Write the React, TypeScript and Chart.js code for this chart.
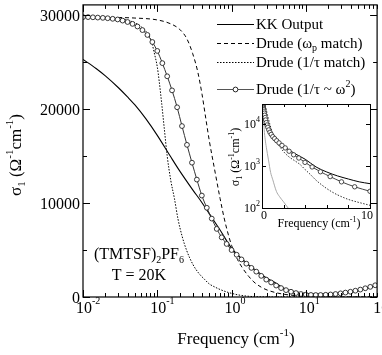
import React, { useEffect, useRef } from "react";
import { Chart, registerables } from "chart.js";

Chart.register(...registerables);

const FONT = '"Liberation Serif", "Times New Roman", serif';

// ---- Main panel data (frequency in cm^-1, sigma in Ohm^-1 cm^-1) ----
const kkFreq = [0.01, 0.015, 0.02, 0.03, 0.04, 0.05, 0.07, 0.1, 0.15, 0.2, 0.3, 0.4, 0.5, 0.7, 1, 1.5, 2, 3, 4, 5, 6, 7, 8, 9, 10, 15, 20, 30, 50, 70, 100];
const kkSigma = [25300, 24330, 23540, 22280, 21280, 20450, 18990, 17210, 14980, 13430, 11410, 10040, 8880, 7130, 5200, 3800, 3000, 2000, 1450, 950, 720, 580, 490, 420, 380, 330, 330, 400, 650, 950, 1400];

const wpFreq = [0.01, 0.02, 0.05, 0.1, 0.15, 0.2, 0.25, 0.3, 0.35, 0.4, 0.45, 0.5, 0.6, 0.7, 0.8, 0.9, 1, 1.2, 1.4, 1.7, 2, 2.5, 3, 4, 5, 7, 10, 20, 50, 100];
const wpSigma = [29800, 29780, 29700, 29500, 29100, 28500, 27500, 25900, 24000, 21600, 19000, 16700, 13300, 10500, 8300, 6700, 5500, 4000, 3100, 2200, 1600, 1050, 750, 450, 300, 160, 80, 20, 4, 1];

const tauFreq = [0.01, 0.02, 0.03, 0.04, 0.05, 0.06, 0.07, 0.078, 0.085, 0.091, 0.1, 0.106, 0.115, 0.124, 0.136, 0.152, 0.17, 0.19, 0.217, 0.25, 0.3, 0.36, 0.43, 0.5, 0.6, 0.7, 0.85, 1, 1.2, 1.5, 2, 3, 5, 10, 100];
const tauSigma = [29800, 29750, 29650, 29450, 29200, 28800, 28300, 27800, 27000, 26000, 24500, 23000, 20500, 18000, 15000, 12400, 10500, 8300, 6400, 4900, 3500, 2550, 1900, 1400, 1050, 800, 550, 390, 240, 120, 40, 12, 4, 1, 0];

const w2Freq = [0.01, 0.0117, 0.0136, 0.0158, 0.0185, 0.0215, 0.0251, 0.0293, 0.0341, 0.0398, 0.0464, 0.0541, 0.0631, 0.0736, 0.0858, 0.1, 0.117, 0.136, 0.158, 0.185, 0.215, 0.251, 0.293, 0.341, 0.398, 0.464, 0.541, 0.631, 0.736, 0.858, 1.0, 1.17, 1.36, 1.58, 1.85, 2.15, 2.51, 2.93, 3.41, 3.98, 4.64, 5.41, 6.31, 7.36, 8.58, 10, 11.7, 13.6, 15.8, 18.5, 21.5, 25.1, 29.3, 34.1, 39.8, 46.4, 54.1, 63.1, 73.6, 85.8, 100];
const w2Sigma = [29800, 29800, 29780, 29750, 29720, 29680, 29620, 29550, 29430, 29280, 29080, 28800, 28420, 27900, 27150, 26200, 24900, 23500, 22000, 20200, 18200, 16200, 14300, 12500, 10800, 9500, 8350, 7250, 6350, 5650, 5000, 4500, 4000, 3550, 3100, 2700, 2250, 1850, 1550, 1220, 950, 730, 560, 420, 320, 250, 220, 210, 215, 235, 270, 320, 390, 470, 560, 670, 790, 930, 1080, 1250, 1430];

// ---- Inset data ----
const insetWpFreq = [0.01, 0.1, 0.2, 0.3, 0.4, 0.5, 0.7, 1, 1.5, 2, 2.5, 3, 3.5, 4, 4.5, 5, 5.5, 6, 6.5, 7, 8, 9, 10];
const insetWpSigma = [29800, 29500, 28500, 25900, 21600, 16700, 10500, 5800, 3300, 2200, 1650, 1350, 1100, 820, 620, 460, 360, 290, 240, 205, 160, 135, 116];
const insetTauFreq = [0.01, 0.05, 0.1, 0.15, 0.2, 0.3, 0.4, 0.6, 0.8, 1, 1.33, 1.6, 2, 2.42, 3, 4];
const insetTauSigma = [29800, 29200, 24500, 13000, 7500, 4200, 2800, 1400, 700, 470, 250, 190, 140, 100, 70, 45];

// ---- Ticks ----
const xTickExps = [-2, -1, 0, 1, 2];
const yMajorTicks = [0, 10000, 20000, 30000];
const yMinorTicks = [5000, 15000, 25000];
const insetYTickExps = [2, 3, 4];
const insetXTicks = [0, 10];
const insetXMinor = [2, 4, 6, 8];

// inset canvas placement on the page
const INSET_LEFT = 225;
const INSET_TOP = 98;

type Seg = { t: string; s?: "sup" | "sub" };

function segFont(size: number, s?: string) {
  const sz = s ? Math.round(size * 0.65) : size;
  return `${sz}px ${FONT}`;
}
function richWidth(ctx: CanvasRenderingContext2D, segs: Seg[], size: number) {
  let w = 0;
  for (const sg of segs) {
    ctx.font = segFont(size, sg.s);
    w += ctx.measureText(sg.t).width;
  }
  return w;
}
function drawRich(
  ctx: CanvasRenderingContext2D,
  segs: Seg[],
  x: number,
  y: number,
  size: number,
  align: "left" | "center" | "right" = "left",
  supK = 0.45
) {
  const w = richWidth(ctx, segs, size);
  let cx = align === "left" ? x : align === "center" ? x - w / 2 : x - w;
  ctx.textAlign = "left";
  ctx.textBaseline = "alphabetic";
  for (const sg of segs) {
    ctx.font = segFont(size, sg.s);
    const dy = sg.s === "sup" ? -size * supK : sg.s === "sub" ? size * 0.22 : 0;
    ctx.fillText(sg.t, cx, y + dy);
    cx += ctx.measureText(sg.t).width;
  }
}

const sigmaTitle: Seg[] = [
  { t: "σ" }, { t: "1", s: "sub" }, { t: " (Ω" }, { t: "-1", s: "sup" }, { t: "cm" }, { t: "-1", s: "sup" }, { t: ")" },
];
const freqTitle: Seg[] = [{ t: "Frequency (cm" }, { t: "-1", s: "sup" }, { t: ")" }];

const mainDecor = {
  id: "mainDecor",
  afterDatasetsDraw(chart: any) {
    const { ctx, chartArea: a, scales } = chart;
    const xs = scales.x;
    const ys = scales.y;
    ctx.save();
    ctx.strokeStyle = "#000";
    ctx.fillStyle = "#000";
    ctx.setLineDash([]);
    ctx.lineWidth = 1.2;
    ctx.strokeRect(a.left, a.top, a.right - a.left, a.bottom - a.top);
    ctx.lineWidth = 1;
    ctx.beginPath();
    for (const e of xTickExps) {
      for (let k = 1; k <= 9; k++) {
        const v = k * Math.pow(10, e);
        if (v < xs.min || v > xs.max) continue;
        const px = Math.round(xs.getPixelForValue(v)) + 0.5;
        const len = k === 1 ? 7 : 4;
        ctx.moveTo(px, a.bottom);
        ctx.lineTo(px, a.bottom - len);
        ctx.moveTo(px, a.top);
        ctx.lineTo(px, a.top + len);
      }
    }
    const yt = (v: number, len: number) => {
      const py = Math.round(ys.getPixelForValue(v)) + 0.5;
      ctx.moveTo(a.left, py);
      ctx.lineTo(a.left + len, py);
      ctx.moveTo(a.right, py);
      ctx.lineTo(a.right - len, py);
    };
    yMajorTicks.forEach((v) => yt(v, 7));
    yMinorTicks.forEach((v) => yt(v, 4));
    ctx.stroke();

    // y tick labels
    ctx.font = `16px ${FONT}`;
    ctx.textAlign = "right";
    ctx.textBaseline = "alphabetic";
    yMajorTicks.forEach((v) => {
      const py = ys.getPixelForValue(v);
      ctx.fillText(String(v), a.left - 3, py + 5.5);
    });
    // x tick labels
    xTickExps.forEach((e) => {
      const px = xs.getPixelForValue(Math.pow(10, e));
      drawRich(ctx, [{ t: "10" }, { t: String(e), s: "sup" }], px - 7, 313, 16, "left", 0.55);
    });
    // axis titles
    drawRich(ctx, freqTitle, 236, 344, 17, "center");
    ctx.save();
    ctx.translate(21, 155);
    ctx.rotate(-Math.PI / 2);
    drawRich(ctx, sigmaTitle, 0, 0, 17, "center");
    ctx.restore();

    // annotation
    drawRich(ctx, [{ t: "(TMTSF)" }, { t: "2", s: "sub" }, { t: "PF" }, { t: "6", s: "sub" }], 139, 259, 16, "center");
    drawRich(ctx, [{ t: "T = 20K" }], 139, 280, 16, "center");

    // legend
    const lx0 = 217;
    const lx1 = 254;
    const rows: { y: number; kind: string; label: Seg[] }[] = [
      { y: 24, kind: "solid", label: [{ t: "KK Output" }] },
      { y: 43, kind: "dash", label: [{ t: "Drude (ω" }, { t: "p", s: "sub" }, { t: " match)" }] },
      { y: 62, kind: "dot", label: [{ t: "Drude (1/τ match)" }] },
      { y: 89, kind: "circ", label: [{ t: "Drude (1/τ ~ ω" }, { t: "2", s: "sup" }, { t: ")" }] },
    ];
    rows.forEach((r) => {
      ctx.save();
      ctx.lineWidth = 1;
      ctx.strokeStyle = r.kind === "circ" ? "#555" : "#000";
      ctx.setLineDash(r.kind === "dash" ? [4, 3] : r.kind === "dot" ? [1.5, 1.5] : []);
      ctx.beginPath();
      ctx.moveTo(lx0, r.y + 0.5);
      ctx.lineTo(lx1, r.y + 0.5);
      ctx.stroke();
      if (r.kind === "circ") {
        ctx.setLineDash([]);
        ctx.beginPath();
        ctx.arc((lx0 + lx1) / 2, r.y + 0.5, 2.4, 0, Math.PI * 2);
        ctx.fillStyle = "#fff";
        ctx.fill();
        ctx.strokeStyle = "#222";
        ctx.stroke();
      }
      ctx.restore();
      drawRich(ctx, r.label, 256, r.y + 5, 15, "left");
    });
    ctx.restore();
  },
};

const insetDecor = {
  id: "insetDecor",
  afterDatasetsDraw(chart: any) {
    const { ctx, chartArea: a, scales } = chart;
    const xs = scales.x;
    const ys = scales.y;
    ctx.save();
    ctx.strokeStyle = "#000";
    ctx.fillStyle = "#000";
    ctx.setLineDash([]);
    ctx.lineWidth = 1;
    ctx.strokeRect(a.left + 0.5, a.top + 0.5, a.right - a.left, a.bottom - a.top);
    ctx.beginPath();
    insetYTickExps.forEach((e) => {
      const py = Math.round(ys.getPixelForValue(Math.pow(10, e))) + 0.5;
      ctx.moveTo(a.left, py);
      ctx.lineTo(a.left + 4, py);
      ctx.moveTo(a.right, py);
      ctx.lineTo(a.right - 4, py);
    });
    insetXMinor.forEach((v) => {
      const px = Math.round(xs.getPixelForValue(v)) + 0.5;
      ctx.moveTo(px, a.bottom);
      ctx.lineTo(px, a.bottom - 3);
      ctx.moveTo(px, a.top);
      ctx.lineTo(px, a.top + 3);
    });
    ctx.stroke();
    insetYTickExps.forEach((e) => {
      const py = ys.getPixelForValue(Math.pow(10, e));
      drawRich(ctx, [{ t: "10" }, { t: String(e), s: "sup" }], a.left - 2, py + 4, 12, "right", 0.5);
    });
    ctx.font = `12px ${FONT}`;
    ctx.textAlign = "center";
    ctx.textBaseline = "alphabetic";
    insetXTicks.forEach((v) => {
      const px = xs.getPixelForValue(v);
      ctx.fillText(String(v), v === 0 ? px + 2 : px - 3, 219 - INSET_TOP);
    });
    drawRich(ctx, freqTitle, 319 - INSET_LEFT, 227 - INSET_TOP, 12, "center");
    ctx.save();
    ctx.translate(239 - INSET_LEFT, 157 - INSET_TOP);
    ctx.rotate(-Math.PI / 2);
    drawRich(ctx, sigmaTitle, 0, 0, 12, "center");
    ctx.restore();
    ctx.restore();
  },
};

function pts(fx: number[], sy: number[], maxF = Infinity) {
  const out: { x: number; y: number }[] = [];
  fx.forEach((f, i) => {
    if (f <= maxF) out.push({ x: f, y: sy[i] });
  });
  return out;
}

export default function App() {
  const mainRef = useRef<HTMLCanvasElement>(null);
  const insetRef = useRef<HTMLCanvasElement>(null);

  useEffect(() => {
    const main = new Chart(mainRef.current as HTMLCanvasElement, {
      type: "line",
      data: {
        datasets: [
          {
            label: "Drude (1/τ ~ ω²)",
            data: pts(w2Freq, w2Sigma),
            borderColor: "#333",
            borderWidth: 1,
            pointRadius: 2.4,
            pointBackgroundColor: "#fff",
            pointBorderColor: "#222",
            pointBorderWidth: 0.9,
            cubicInterpolationMode: "monotone",
          },
          {
            label: "KK Output",
            data: pts(kkFreq, kkSigma),
            borderColor: "#000",
            borderWidth: 1.1,
            pointRadius: 0,
            cubicInterpolationMode: "monotone",
          },
          {
            label: "Drude (ωp match)",
            data: pts(wpFreq, wpSigma),
            borderColor: "#000",
            borderWidth: 1,
            borderDash: [4, 3],
            pointRadius: 0,
            cubicInterpolationMode: "monotone",
          },
          {
            label: "Drude (1/τ match)",
            data: pts(tauFreq, tauSigma),
            borderColor: "#000",
            borderWidth: 1,
            borderDash: [1.5, 1.5],
            pointRadius: 0,
            cubicInterpolationMode: "monotone",
          },
        ],
      } as any,
      options: {
        responsive: false,
        animation: false,
        events: [],
        layout: { padding: { left: 83, right: 2, top: 3, bottom: 58 } },
        scales: {
          x: { type: "logarithmic", min: 0.01, max: 91, display: false },
          y: { type: "linear", min: 0, max: 31100, display: false },
        },
        plugins: { legend: { display: false }, tooltip: { enabled: false } },
      } as any,
      plugins: [mainDecor],
    });

    const inset = new Chart(insetRef.current as HTMLCanvasElement, {
      type: "line",
      data: {
        datasets: [
          {
            data: pts(w2Freq, w2Sigma, 10),
            borderColor: "#444",
            borderWidth: 1,
            pointRadius: 2.2,
            pointBackgroundColor: "#fff",
            pointBorderColor: "#222",
            pointBorderWidth: 0.8,
            cubicInterpolationMode: "monotone",
          },
          {
            data: pts(kkFreq, kkSigma, 10),
            borderColor: "#000",
            borderWidth: 1,
            pointRadius: 0,
            cubicInterpolationMode: "monotone",
          },
          {
            data: pts(insetWpFreq, insetWpSigma, 10),
            borderColor: "#333",
            borderWidth: 1,
            borderDash: [1.5, 1.5],
            pointRadius: 0,
            cubicInterpolationMode: "monotone",
          },
          {
            data: pts(insetTauFreq, insetTauSigma, 10),
            borderColor: "#aaa",
            borderWidth: 1,
            pointRadius: 0,
            cubicInterpolationMode: "monotone",
          },
        ],
      } as any,
      options: {
        responsive: false,
        animation: false,
        events: [],
        layout: { padding: { left: 37, right: 10, top: 6, bottom: 30 } },
        scales: {
          x: { type: "linear", min: 0, max: 10, display: false },
          y: { type: "logarithmic", min: 100, max: 30000, display: false },
        },
        plugins: { legend: { display: false }, tooltip: { enabled: false } },
      } as any,
      plugins: [insetDecor],
    });

    return () => {
      main.destroy();
      inset.destroy();
    };
  }, []);

  return (
    <div style={{ position: "fixed", left: 0, top: 0, width: 382, height: 355, overflow: "hidden", background: "#fff" }}>
      <canvas ref={mainRef} width={382} height={355} style={{ position: "absolute", left: 0, top: 0, width: 382, height: 355 }} />
      <canvas ref={insetRef} width={155} height={140} style={{ position: "absolute", left: INSET_LEFT, top: INSET_TOP, width: 155, height: 140 }} />
    </div>
  );
}
